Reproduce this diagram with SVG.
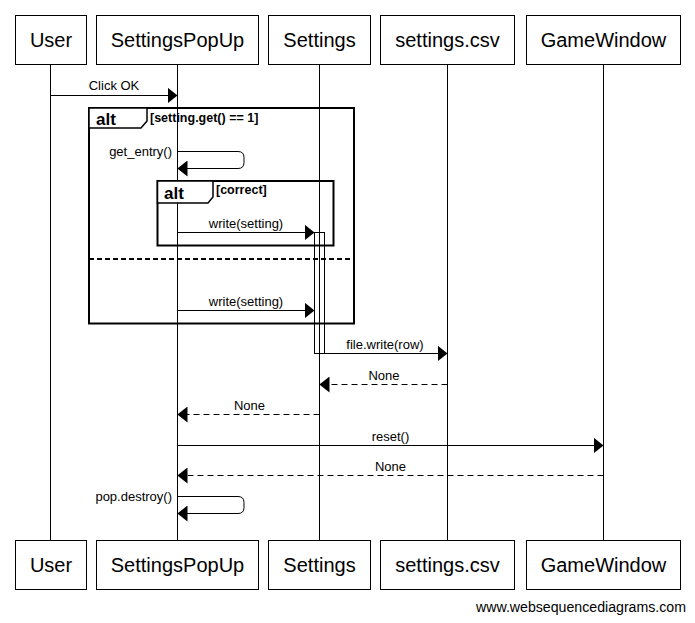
<svg xmlns="http://www.w3.org/2000/svg" width="695" height="623" viewBox="0 0 695 623">
<style>
  .box{fill:#fff;stroke:#000;stroke-width:1}
  .pname{font-family:"Liberation Sans",Arial,sans-serif;font-size:20px;fill:#000;text-anchor:middle}
  .life{stroke:#000;stroke-width:1;fill:none}
  .msg{stroke:#000;stroke-width:1;fill:none;marker-end:url(#ah)}
  .ret{stroke:#000;stroke-width:1;fill:none;stroke-dasharray:6,4;marker-end:url(#ah)}
  .lbl{font-family:"Liberation Sans",Arial,sans-serif;font-size:13px;fill:#000;text-anchor:middle}
  .lblr{font-family:"Liberation Sans",Arial,sans-serif;font-size:13px;fill:#000;text-anchor:end}
  .frame{fill:none;stroke:#000;stroke-width:2}
  .tab{fill:#fff;stroke:#000;stroke-width:1.5}
  .ftitle{font-family:"Liberation Sans",Arial,sans-serif;font-size:17px;font-weight:bold;fill:#000}
  .fcond{font-family:"Liberation Sans",Arial,sans-serif;font-size:12.5px;font-weight:bold;fill:#000}
  .sep{stroke:#000;stroke-width:2;stroke-dasharray:5,3;fill:none}
  .act{fill:none;stroke:#000;stroke-width:1}
  .foot{font-family:"Liberation Sans",Arial,sans-serif;font-size:14px;fill:#000;text-anchor:end}
</style>
<defs>
  <marker id="ah" markerUnits="userSpaceOnUse" markerWidth="10" markerHeight="16" refX="10" refY="8" orient="auto">
    <path d="M0,0 L10,8 L0,16 Z" fill="#000"/>
  </marker>
</defs>
<rect width="695" height="623" fill="#fff"/>

<g id="lifelines">
  <line class="life" x1="50.5" y1="64" x2="50.5" y2="540"/>
  <line class="life" x1="177.5" y1="64" x2="177.5" y2="540"/>
  <line class="life" x1="319.5" y1="64" x2="319.5" y2="540"/>
  <line class="life" x1="447.5" y1="64" x2="447.5" y2="540"/>
  <line class="life" x1="603.5" y1="64" x2="603.5" y2="540"/>
</g>

<g id="User">
  <rect class="box" x="15.5" y="15.5" width="71" height="49"/>
  <text class="pname" x="51" y="47">User</text>
  <rect class="box" x="15.5" y="540.5" width="71" height="49"/>
  <text class="pname" x="51" y="572">User</text>
</g>
<g id="SettingsPopUp">
  <rect class="box" x="96.5" y="15.5" width="162" height="49"/>
  <text class="pname" x="177.5" y="47">SettingsPopUp</text>
  <rect class="box" x="96.5" y="540.5" width="162" height="49"/>
  <text class="pname" x="177.5" y="572">SettingsPopUp</text>
</g>
<g id="Settings">
  <rect class="box" x="268.5" y="15.5" width="102" height="49"/>
  <text class="pname" x="319.5" y="47">Settings</text>
  <rect class="box" x="268.5" y="540.5" width="102" height="49"/>
  <text class="pname" x="319.5" y="572">Settings</text>
</g>
<g id="settings_csv">
  <rect class="box" x="380.5" y="15.5" width="134" height="49"/>
  <text class="pname" x="447.5" y="47">settings.csv</text>
  <rect class="box" x="380.5" y="540.5" width="134" height="49"/>
  <text class="pname" x="447.5" y="572">settings.csv</text>
</g>
<g id="GameWindow">
  <rect class="box" x="526.5" y="15.5" width="154" height="49"/>
  <text class="pname" x="603.5" y="47">GameWindow</text>
  <rect class="box" x="526.5" y="540.5" width="154" height="49"/>
  <text class="pname" x="603.5" y="572">GameWindow</text>
</g>

<g id="alt_outer">
  <rect class="frame" x="89" y="108" width="265" height="215.5"/>
  <path class="tab" d="M89,108 H147 V121 L141,128 H89 Z"/>
  <text class="ftitle" x="96" y="125">alt</text>
  <text class="fcond" x="150" y="122">[setting.get() == 1]</text>
  <line class="sep" x1="89" y1="259" x2="354" y2="259"/>
</g>
<g id="alt_inner">
  <rect class="frame" x="157.5" y="181" width="176" height="64.5"/>
  <path class="tab" d="M157.5,181 H213 V197 L208,203 H157.5 Z"/>
  <text class="ftitle" x="164" y="199">alt</text>
  <text class="fcond" x="216" y="194">[correct]</text>
</g>

<g id="activation">
  <rect class="act" x="314.5" y="232.5" width="10" height="121"/>
</g>

<g id="connectors">
  <line class="msg" x1="50.5" y1="95.5" x2="177.5" y2="95.5"/>
  <text class="lbl" x="114" y="90">Click OK</text>

  <path class="msg" d="M177.5,151.5 H238 Q244,151.5 244,157.5 V162.5 Q244,168.5 238,168.5 H177.5"/>
  <text class="lblr" x="172" y="156">get_entry()</text>

  <line class="msg" x1="177.5" y1="232.5" x2="314.5" y2="232.5"/>
  <text class="lbl" x="246" y="228">write(setting)</text>

  <line class="msg" x1="177.5" y1="310.5" x2="314.5" y2="310.5"/>
  <text class="lbl" x="246" y="306">write(setting)</text>

  <line class="msg" x1="324.5" y1="353.5" x2="447.5" y2="353.5"/>
  <text class="lbl" x="385" y="349">file.write(row)</text>

  <line class="ret" x1="447.5" y1="384.5" x2="319.5" y2="384.5"/>
  <text class="lbl" x="384" y="380">None</text>

  <line class="ret" x1="319.5" y1="414.5" x2="177.5" y2="414.5"/>
  <text class="lbl" x="249.5" y="410">None</text>

  <line class="msg" x1="177.5" y1="445.5" x2="603.5" y2="445.5"/>
  <text class="lbl" x="390.5" y="441">reset()</text>

  <line class="ret" x1="603.5" y1="475.5" x2="177.5" y2="475.5"/>
  <text class="lbl" x="390.5" y="471">None</text>

  <path class="msg" d="M177.5,496.5 H238 Q244,496.5 244,502.5 V507.5 Q244,513.5 238,513.5 H177.5"/>
  <text class="lblr" x="172" y="501">pop.destroy()</text>
</g>

<text class="foot" x="686" y="612" textLength="210" lengthAdjust="spacingAndGlyphs">www.websequencediagrams.com</text>
</svg>
